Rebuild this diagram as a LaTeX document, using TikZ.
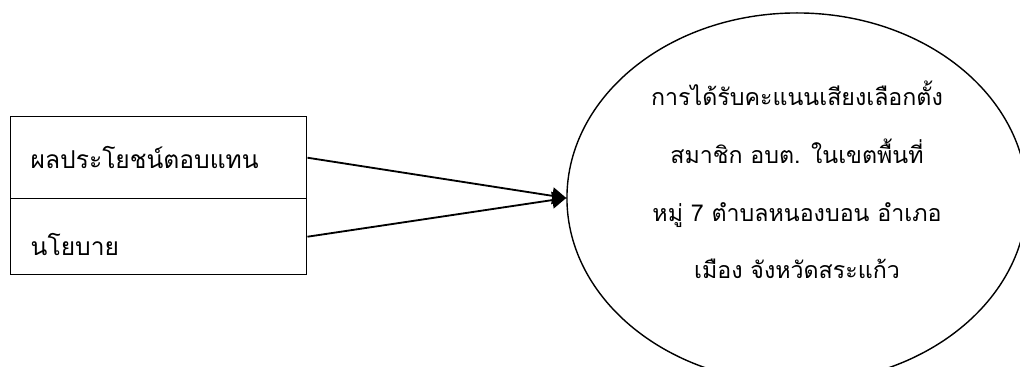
\documentclass[tikz,border=0pt]{standalone}
\usepackage{fontspec}
\newfontfamily\thaifont[Script=Thai]{Loma}
\usepackage{tikz}
\usetikzlibrary{arrows.meta, positioning, shapes.geometric}

\begin{document}
\begin{tikzpicture}[x=0.025cm, y=-0.025cm,
    factor/.style={draw, line width=1pt, minimum width=7.4cm, inner xsep=0.5cm, text width=6.4cm, align=left,
        font=\thaifont\fontsize{17.5pt}{20pt}\selectfont},
    link/.style={line width=1.3pt, -{Triangle[length=0.35cm, width=0.42cm]}}]
    \useasboundingbox (0,0) rectangle (1020,367);
    \node[factor, minimum height=2.05cm, anchor=north west] (benefit) at (10,116) {ผลประโยชน์ตอบแทน};
    \node[factor, minimum height=1.9cm, anchor=north west] (policy) at (10,198) {\raisebox{-0.95cm}{นโยบาย}};
    \node[draw, ellipse, line width=1pt, inner sep=0pt, minimum width=11.5cm, minimum height=9.25cm, align=center,
        font=\thaifont\fontsize{16.5pt}{41pt}\selectfont] (vote) at (797,198)
        {การได้รับคะแนนเสียงเลือกตั้ง\\สมาชิก อบต. ในเขตพื้นที่\\หมู่ 7 ตำบลหนองบอน อำเภอ\\เมือง จังหวัดสระแก้ว\rule[-0.9cm]{0pt}{0.9cm}};
    \draw[link] (benefit.east) -- (vote.west);
    \draw[link] (policy.east) -- (vote.west);
\end{tikzpicture}
\end{document}
